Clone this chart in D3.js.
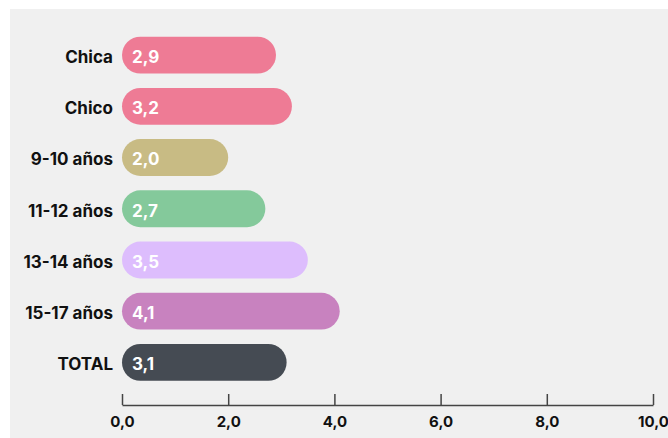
<!DOCTYPE html>
<html><head><meta charset="utf-8">
<script src="https://cdn.jsdelivr.net/npm/d3@7"></script>
<style>html,body{margin:0;padding:0;background:#fff;}svg{display:block;font-family:Inter,"Noto Sans",sans-serif;}</style>
</head><body>
<script>
const categories = ["Chica","Chico","9-10 años","11-12 años","13-14 años","15-17 años","TOTAL"];
const values = [2.9,3.2,2.0,2.7,3.5,4.1,3.1];
const colors = ["#ee7b95","#ee7b95","#c8bb84","#84c99b","#ddbdfd","#c882bf","#454b53"];
const tickValues = [0,2,4,6,8,10];

const W=668,H=438;
const svg=d3.select("body").append("svg").attr("width",W).attr("height",H);
svg.append("rect").attr("x",10).attr("y",9).attr("width",W-10).attr("height",H-9).attr("fill","#f0f0f0");

const x=d3.scaleLinear().domain([0,10]).range([122,653]);
const y=d3.scaleBand().domain(categories).range([29.5,388]).paddingInner(0.28).paddingOuter(0.14);
const bh=y.bandwidth();

const fmt=v=>d3.format(".1f")(v).replace(".",",");

const g=svg.append("g");
g.selectAll("rect.bar").data(categories).join("rect").attr("class","bar")
 .attr("x",x(0)).attr("y",d=>y(d)).attr("height",bh)
 .attr("width",(d,i)=>x(values[i])-x(0)).attr("rx",bh/2).attr("ry",bh/2)
 .attr("fill",(d,i)=>colors[i]);
g.selectAll("text.val").data(categories).join("text").attr("class","val")
 .attr("x",x(0)+10).attr("y",d=>y(d)+bh/2).attr("dy","0.46em")
 .attr("fill","#fff").attr("font-weight",700).attr("font-size",17)
 .text((d,i)=>fmt(values[i]));
g.selectAll("text.cat").data(categories).join("text").attr("class","cat")
 .attr("x",113).attr("y",d=>y(d)+bh/2).attr("dy","0.46em")
 .attr("text-anchor","end").attr("fill","#111").attr("font-weight",700).attr("font-size",17)
 .text(d=>d);

const ax=svg.append("g").attr("transform","translate(0,405)")
 .call(d3.axisBottom(x).tickValues(tickValues).tickFormat(fmt).tickSizeInner(-11).tickSizeOuter(0).tickPadding(9));
ax.select(".domain").attr("stroke","#444").attr("stroke-width",1.5);
ax.selectAll(".tick line").attr("stroke","#444").attr("stroke-width",1.5);
ax.selectAll(".tick text").attr("y",11).attr("dy","0.71em").attr("fill","#111").attr("font-weight",700).attr("font-size",15).attr("font-family","Inter,sans-serif");
</script>
</body></html>
